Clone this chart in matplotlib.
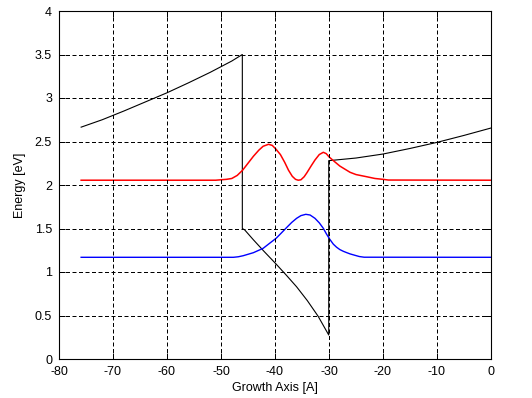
import matplotlib
matplotlib.use("Agg")
import matplotlib.pyplot as plt

# Black band-edge line (with vertical steps at the interfaces)
black_x = [-75.9, -72, -68, -64, -60, -56, -52, -48, -46.05,
           -46.05, -45.6, -44, -42, -40, -38, -36, -34, -32, -30.05,
           -30.05, -30, -25, -20, -15, -10, -5, 0]
black_y = [2.665, 2.75, 2.85, 2.955, 3.06, 3.175, 3.295, 3.425, 3.50,
           1.50, 1.483, 1.37, 1.235, 1.105, 0.97, 0.83, 0.67, 0.49, 0.276,
           2.28, 2.28, 2.31, 2.356, 2.42, 2.49, 2.57, 2.655]

# Red curve
red_x = [-75.9, -51, -50, -49, -48, -47, -46, -45, -44, -43, -42.2, -41.2,
         -40.5, -39.8, -39, -38.2, -37.5, -36.8, -36.2, -35.7, -35.2, -34.6,
         -34.1, -33.3, -32.6, -31.8, -31.05, -30.5, -29.94, -29, -28, -27,
         -26.1, -25, -23.1, -21.5, -20, -19, 0]
red_y = [2.055, 2.055, 2.06, 2.065, 2.075, 2.11, 2.17, 2.25, 2.33, 2.40, 2.445, 2.468,
         2.455, 2.41, 2.35, 2.26, 2.17, 2.10, 2.065, 2.055, 2.06, 2.095,
         2.14, 2.22, 2.287, 2.35, 2.376, 2.36, 2.32, 2.27, 2.218, 2.18,
         2.146, 2.12, 2.096, 2.075, 2.065, 2.057, 2.055]

# Blue curve
blue_x = [-75.9, -47.7, -46.8, -45.9, -44, -42.2, -41, -39.8, -38.8, -37.8, -36.9,
          -36, -35.2, -34.3, -33.5, -32.6, -31.8, -31.05, -30.5, -29.9, -29.2,
          -28.6, -28, -27.35, -26.7, -26.1, -25.2, -24.4, -23.5, 0]
blue_y = [1.169, 1.169, 1.175, 1.187, 1.222, 1.272, 1.33, 1.387, 1.45, 1.514, 1.57,
          1.617, 1.648, 1.663, 1.655, 1.617, 1.565, 1.502, 1.44, 1.38, 1.32,
          1.285, 1.258, 1.238, 1.222, 1.208, 1.192, 1.178, 1.17, 1.169]

x_ticks = [-80, -70, -60, -50, -40, -30, -20, -10, 0]
y_ticks = [0, 0.5, 1, 1.5, 2, 2.5, 3, 3.5, 4]
y_tick_labels = ["0", "0.5", "1", "1.5", "2", "2.5", "3", "3.5", "4"]

plt.rcParams['font.family'] = ['Liberation Sans', 'DejaVu Sans']

fig = plt.figure(figsize=(5.32, 3.98), dpi=100)
ax = fig.add_axes([59/532, 39/398, 432/532, 348/398])

ax.plot(black_x, black_y, color='black', lw=0.8)
ax.plot(red_x, red_y, color='red', lw=1.1)
ax.plot(blue_x, blue_y, color='blue', lw=1.0)

ax.set_xlim(-80, 0)
ax.set_ylim(0, 4)
ax.set_xticks(x_ticks)
ax.set_xticklabels([str(t) for t in x_ticks])
ax.set_yticks(y_ticks)
ax.set_yticklabels(y_tick_labels)

ax.grid(True, color='black', linestyle=(0, (4, 2.5)), linewidth=0.72)
ax.set_axisbelow(False)
ax.tick_params(direction='in', length=4, width=0.72, labelsize=9, pad=5,
               top=True, right=True)
for s in ax.spines.values():
    s.set_linewidth(0.8)
    s.set_color('black')

ax.set_xlabel('Growth Axis [A]', fontsize=9, labelpad=3)
ax.set_ylabel('Energy [eV]', fontsize=9, labelpad=6)

fig.savefig('out.png', dpi=100)
